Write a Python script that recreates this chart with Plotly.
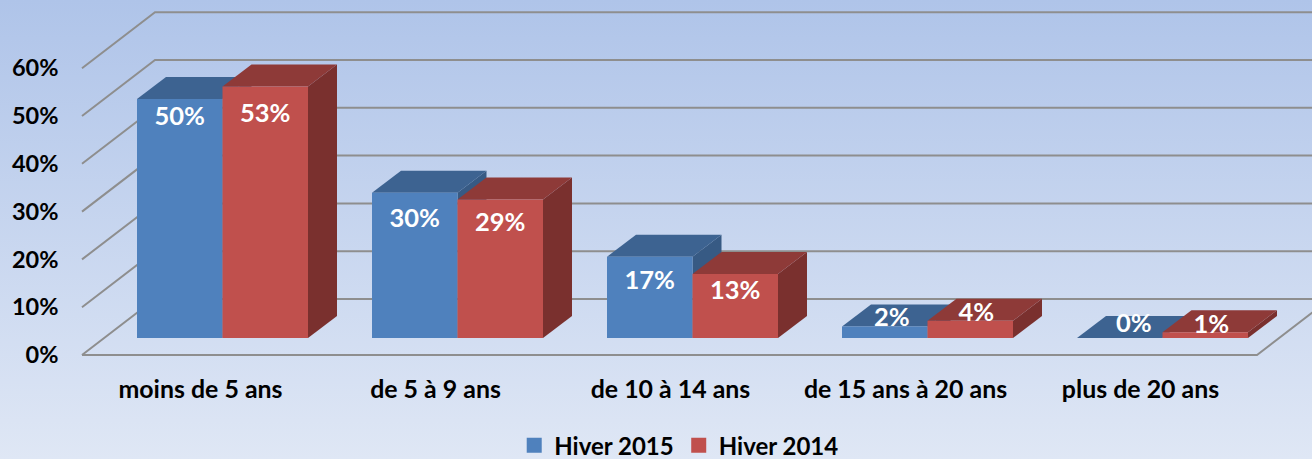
import plotly.graph_objects as go

categories = ["moins de 5 ans", "de 5 à 9 ans", "de 10 à 14 ans", "de 15 ans à 20 ans", "plus de 20 ans"]
hiver_2015 = [50.0, 30.4, 17.0, 2.4, 0.0]
hiver_2014 = [52.6, 29.0, 13.4, 3.6, 1.2]
tick_values = [0, 10, 20, 30, 40, 50, 60]

# Page geometry in pixels (chart projected on a fixed oblique view)
W, H = 1312, 459
PX_PER_PCT = 4.78
PX_PER_CAT = 235.0
X0 = 222.5            # pixel centre of the first group
BAR_BASE = 338        # bar feet
FLOOR = 355           # front edge of floor
LEFT = 82
RIGHT = 1257
WALL_DX, WALL_DY = 73, 56
BAR_DX, BAR_DY = 29, 22
BAR_W = 85.5

FONT = "Lato"
BLUE, BLUE_TOP, BLUE_SIDE = "#4f81bd", "#3d6391", "#375a84"
RED, RED_TOP, RED_SIDE = "#c0504d", "#8e3a38", "#7a302e"
GRID = "#8e8e8e"

# label nudges from the top-centre of each bar's front face (px right, px down)
nudge_2015 = [(0, 20), (0, 28), (0, 26), (7, -7), (14, -12)]
nudge_2014 = [(0, 29), (0, 25), (0, 19), (6, -6), (6, -6)]


def cx(px):
    return (px - X0) / PX_PER_CAT


fig = go.Figure()

# background gradient
fig.add_trace(go.Scatter(
    x=[cx(0), cx(W), cx(W), cx(0), cx(0)],
    y=[(FLOOR - H) / PX_PER_PCT, (FLOOR - H) / PX_PER_PCT, FLOOR / PX_PER_PCT, FLOOR / PX_PER_PCT, (FLOOR - H) / PX_PER_PCT],
    mode="none", fill="toself", showlegend=False, hoverinfo="skip",
    fillgradient=dict(type="vertical", colorscale=[[0, "#dfe7f5"], [1, "#afc4e9"]]),
    xaxis="x", yaxis="y",
))

# wall gridlines and left-side diagonals, in tick units
gx, gy = [], []
dv = WALL_DY / PX_PER_PCT
for t in tick_values:
    gx += [cx(LEFT), cx(LEFT + WALL_DX), cx(RIGHT + WALL_DX), None]
    gy += [t, t + dv, t + dv, None]
gx += [cx(LEFT), cx(RIGHT), cx(RIGHT + WALL_DX), None]
gy += [0, 0, dv, None]
fig.add_trace(go.Scatter(x=gx, y=gy, mode="lines", line=dict(color=GRID, width=2),
                         showlegend=False, hoverinfo="skip", xaxis="x", yaxis="y"))

# 3D side and top faces
bw = BAR_W / PX_PER_CAT
ddx = BAR_DX / PX_PER_CAT
ddy = BAR_DY / PX_PER_PCT
for s, (vals, top_c, side_c) in enumerate([(hiver_2015, BLUE_TOP, BLUE_SIDE), (hiver_2014, RED_TOP, RED_SIDE)]):
    for i, v in enumerate(vals):
        x1 = i - bw + s * bw
        x2 = x1 + bw
        fig.add_trace(go.Scatter(
            x=[x2, x2 + ddx, x2 + ddx, x2, x2], y=[0, ddy, v + ddy, v, 0],
            mode="none", fill="toself", fillcolor=side_c, showlegend=False, hoverinfo="skip",
            xaxis="x", yaxis="y2"))
        fig.add_trace(go.Scatter(
            x=[x1, x2, x2 + ddx, x1 + ddx, x1], y=[v, v, v + ddy, v + ddy, v],
            mode="none", fill="toself", fillcolor=top_c, showlegend=False, hoverinfo="skip",
            xaxis="x", yaxis="y2"))

# front faces
xs = list(range(len(categories)))
fig.add_trace(go.Bar(x=xs, y=hiver_2015, name="Hiver 2015", marker=dict(color=BLUE, line=dict(width=0)),
                     showlegend=False, xaxis="x", yaxis="y3"))
fig.add_trace(go.Bar(x=xs, y=hiver_2014, name="Hiver 2014", marker=dict(color=RED, line=dict(width=0)),
                     showlegend=False, xaxis="x", yaxis="y3"))

# value labels
for s, (vals, nudges) in enumerate([(hiver_2015, nudge_2015), (hiver_2014, nudge_2014)]):
    fig.add_trace(go.Scatter(
        x=[i - bw / 2 + s * bw + n[0] / PX_PER_CAT for i, n in enumerate(nudges)],
        y=[v - n[1] / PX_PER_PCT for v, n in zip(vals, nudges)],
        text=[f"{v:.0f}%" for v in vals], mode="text",
        textfont=dict(family=FONT, size=25.5, color="white", weight=700),
        showlegend=False, hoverinfo="skip", xaxis="x", yaxis="y3"))

# legend entries
for name, col in [("Hiver 2015", BLUE), ("Hiver 2014", RED)]:
    fig.add_trace(go.Scatter(x=[None], y=[None], mode="markers", name=name,
                             marker=dict(symbol="square", size=15, color=col),
                             xaxis="x", yaxis="y3"))

base_range = [(BAR_BASE - H) / PX_PER_PCT, BAR_BASE / PX_PER_PCT]
fig.update_layout(
    width=W, height=H,
    margin=dict(l=0, r=0, t=0, b=0, autoexpand=False),
    autosize=False,
    paper_bgcolor="#c8d6ef",
    plot_bgcolor="rgba(0,0,0,0)",
    barmode="group", bargap=1 - 2 * bw, bargroupgap=0,
    font=dict(family=FONT, color="black"),
    showlegend=True,
    legend=dict(orientation="h", x=0.5177, xanchor="center", y=-0.02, yanchor="bottom",
                font=dict(family=FONT, size=24, color="black", weight=700),
                bgcolor="rgba(0,0,0,0)", itemclick=False),
    xaxis=dict(domain=[0, 1], range=[cx(0), cx(W)], anchor="free", position=1 - 372 / H,
               tickmode="array", tickvals=[i - 22 / PX_PER_CAT for i in xs], ticktext=categories,
               tickfont=dict(family=FONT, size=24.9, color="black", weight=700),
               showgrid=False, zeroline=False, showline=False, ticks=""),
    yaxis=dict(domain=[0, 1], range=[(FLOOR - H) / PX_PER_PCT, FLOOR / PX_PER_PCT],
               anchor="free", position=58.5 / W,
               tickmode="array", tickvals=tick_values, ticktext=[f"{t}%" for t in tick_values],
               tickfont=dict(family=FONT, size=23.5, color="black", weight=700),
               showgrid=False, zeroline=False, showline=False, ticks=""),
    yaxis2=dict(domain=[0, 1], range=base_range, overlaying="y", visible=False),
    yaxis3=dict(domain=[0, 1], range=base_range, overlaying="y", visible=False),
)

fig.write_html("out.html", config={"displayModeBar": False},
               post_script="document.body.style.margin='0';document.body.style.overflow='hidden';")
